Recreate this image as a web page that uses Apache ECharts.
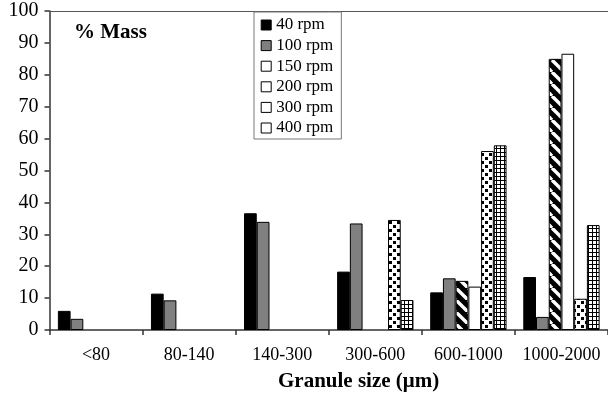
<!DOCTYPE html>
<html>
<head>
<meta charset="utf-8">
<script src="https://cdn.jsdelivr.net/npm/echarts@6/dist/echarts.min.js"></script>
<style>html,body{margin:0;padding:0;background:#fff}#c{width:608px;height:399px}</style>
</head>
<body>
<div id="c"></div>
<script>
var categories = ['<80', '80-140', '140-300', '300-600', '600-1000', '1000-2000'];
var seriesNames = ['40 rpm', '100 rpm', '150 rpm', '200 rpm', '300 rpm', '400 rpm'];
var rpm40  = [6.0, 11.4, 36.6, 18.3, 11.8, 16.6];
var rpm100 = [3.5, 9.3, 33.9, 33.4, 16.2, 4.1];
var rpm150 = [0, 0, 0, 0, 15.4, 85.0];
var rpm200 = [0, 0, 0, 0, 13.6, 86.6];
var rpm300 = [0, 0, 0, 34.5, 56.1, 9.8];
var rpm400 = [0, 0, 0, 9.4, 57.9, 32.9];
var yTicks = [0, 10, 20, 30, 40, 50, 60, 70, 80, 90, 100];

function makeCanvas(w, h, draw) {
  var c = document.createElement('canvas');
  c.width = w; c.height = h;
  draw(c.getContext('2d'), w, h);
  return c;
}
var hatch = makeCanvas(12, 12, function (g, w, h) {
  g.fillStyle = '#000'; g.fillRect(0, 0, w, h);
  g.strokeStyle = '#fff'; g.lineWidth = 3.4;
  for (var k = -1; k <= 1; k++) {
    g.beginPath(); g.moveTo(k * w, 0); g.lineTo(k * w + w, h); g.stroke();
  }
});
var dots = makeCanvas(8, 8, function (g, w, h) {
  g.fillStyle = '#fff'; g.fillRect(0, 0, w, h);
  g.fillStyle = '#000';
  g.fillRect(1, 1, 3, 3);
  g.fillRect(5, 5, 3, 3);
});
var gridPat = makeCanvas(4, 4, function (g, w, h) {
  g.fillStyle = '#fff'; g.fillRect(0, 0, w, h);
  g.fillStyle = '#000';
  g.fillRect(0, 0, w, 1);
  g.fillRect(0, 0, 1, h);
});

var fills = [
  '#000',
  '#808080',
  { image: hatch, repeat: 'repeat' },
  '#fff',
  { image: dots, repeat: 'repeat' },
  { image: gridPat, repeat: 'repeat' }
];
var legendFills = ['#000', '#808080', '#fff', '#fff', '#fff', '#fff'];
var values = [rpm40, rpm100, rpm150, rpm200, rpm300, rpm400];

var font = 'Liberation Serif';
var chart = echarts.init(document.getElementById('c'), null, { renderer: 'canvas' });
chart.setOption({
  animation: false,
  backgroundColor: '#fff',
  title: [
    { text: '% Mass', left: 74, top: 22, padding: 0,
      textStyle: { fontFamily: font, fontWeight: 'bold', fontSize: 21, color: '#000' } },
    { text: 'Granule size (\u03bcm)', left: 278, top: 371, padding: 0,
      textStyle: { fontFamily: font, fontWeight: 'bold', fontSize: 21, color: '#000' } }
  ],
  legend: {
    orient: 'vertical',
    left: 254, top: 12,
    padding: [4.5, 8, 2.5, 6.7],
    itemGap: 3.6,
    itemWidth: 10, itemHeight: 10,
    backgroundColor: '#fff',
    borderColor: '#777', borderWidth: 1,
    icon: 'rect',
    textStyle: { fontFamily: font, fontSize: 17, color: '#000', lineHeight: 17 },
    data: seriesNames.map(function (n, i) {
      return { name: n, itemStyle: { color: legendFills[i], borderColor: '#000', borderWidth: 1 } };
    })
  },
  grid: { left: 49.5, right: 0, top: 11, bottom: 69, containLabel: false },
  xAxis: [{
    type: 'category',
    data: categories,
    axisLine: { lineStyle: { color: '#333', width: 1.5 } },
    axisTick: { show: true, length: 5, lineStyle: { color: '#333', width: 1.5 } },
    axisLabel: { fontFamily: font, fontSize: 18, color: '#000', margin: 16, interval: 0 }
  }, {
    type: 'category',
    data: categories,
    position: 'top',
    axisLine: { lineStyle: { color: '#555', width: 1 } },
    axisTick: { show: false },
    axisLabel: { show: false }
  }],
  yAxis: {
    type: 'value',
    min: yTicks[0], max: yTicks[yTicks.length - 1], interval: 10,
    splitLine: { show: false },
    axisLine: { show: true, lineStyle: { color: '#333', width: 1.5 } },
    axisTick: { show: true, length: 5, lineStyle: { color: '#333', width: 1.5 } },
    axisLabel: { fontFamily: font, fontSize: 20, color: '#000', margin: 11 }
  },
  series: seriesNames.map(function (n, i) {
    return {
      name: n,
      type: 'bar',
      data: values[i].map(function (v) { return v === 0 ? null : v; }),
      barGap: '0%',
      barCategoryGap: '18%',
      itemStyle: { color: fills[i], borderColor: '#000', borderWidth: 1 },
      emphasis: { disabled: true }
    };
  })
});
</script>
</body>
</html>
